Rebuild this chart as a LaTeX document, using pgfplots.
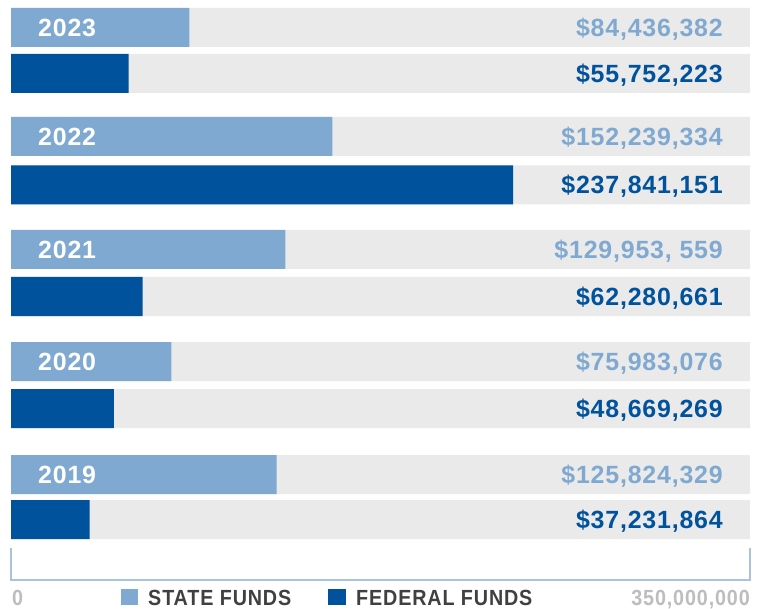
\documentclass[border=0pt]{standalone}
\usepackage{pgfplots}
\pgfplotsset{compat=1.18}
\usepackage{fontspec}
\setmainfont{Liberation Sans}
\newfontfamily\valfont[LetterSpace=3.3]{Liberation Sans}
\newfontfamily\condfont[FakeStretch=0.9,LetterSpace=4]{Liberation Sans}
\definecolor{stateblue}{HTML}{7FA9D1}
\definecolor{fedblue}{HTML}{00529C}
\definecolor{bggray}{HTML}{EAEAEA}
\definecolor{legtext}{HTML}{404040}
\definecolor{axgray}{HTML}{BDBDBD}
\definecolor{axline}{HTML}{A9C3DD}
\pgfplotstableread{
y val
27.5 84436382
136.5 152239334
249.5 129953559
361.5 75983076
474.5 125824329
}\statetab
\pgfplotstableread{
y val
73.5 55752223
185 237841151
296.5 62280661
408.5 48669269
519.5 37231864
}\fedtab
\pgfplotstableread{
y val
27.5 350000000
73.5 350000000
136.5 350000000
185 350000000
249.5 350000000
296.5 350000000
361.5 350000000
408.5 350000000
474.5 350000000
519.5 350000000
}\bgtab
\tikzset{
  yearlab/.style={anchor=base west, inner sep=0pt, text=white, font=\fontsize{25}{25}\selectfont\valfont\bfseries},
  statelab/.style={anchor=base east, inner sep=0pt, text=stateblue, font=\fontsize{25}{25}\selectfont\valfont\bfseries},
  fedlab/.style={anchor=base east, inner sep=0pt, text=fedblue, font=\fontsize{25}{25}\selectfont\valfont\bfseries},
  leglab/.style={inner sep=0pt, font=\fontsize{22}{22}\selectfont\condfont\bfseries},
}
\begin{document}
\begin{tikzpicture}
\begin{axis}[
  scale only axis, width=759bp, height=608bp,
  xmin=-5209743, xmax=354262517,
  ymin=0, ymax=608, y dir=reverse,
  hide axis, clip=false,
  xbar, bar shift=0pt, bar width=39bp,
]
\path (axis cs:-5209743,0) rectangle (axis cs:354262517,608);
\addplot[fill=bggray, draw=none] table[x=val,y=y] {\bgtab};
\addplot[fill=stateblue, draw=none] table[x=val,y=y] {\statetab};
\addplot[fill=fedblue, draw=none] table[x=val,y=y] {\fedtab};
% year labels
\node[yearlab] at (axis cs:12790000,36.5) {2023};
\node[yearlab] at (axis cs:12790000,145.5) {2022};
\node[yearlab] at (axis cs:12790000,258.5) {2021};
\node[yearlab] at (axis cs:12790000,370.5) {2020};
\node[yearlab] at (axis cs:12790000,483.5) {2019};
% state values
\node[statelab] at (axis cs:337200000,36.5) {\$84,436,382};
\node[statelab] at (axis cs:337200000,145.5) {\$152,239,334};
\node[statelab] at (axis cs:337200000,258.5) {\$129,953, 559};
\node[statelab] at (axis cs:337200000,370.5) {\$75,983,076};
\node[statelab] at (axis cs:337200000,483.5) {\$125,824,329};
% federal values
\node[fedlab] at (axis cs:337200000,82.5) {\$55,752,223};
\node[fedlab] at (axis cs:337200000,194) {\$237,841,151};
\node[fedlab] at (axis cs:337200000,305.5) {\$62,280,661};
\node[fedlab] at (axis cs:337200000,417.5) {\$48,669,269};
\node[fedlab] at (axis cs:337200000,528.5) {\$37,231,864};
% axis decoration
\draw[axline, line width=1.5bp] (axis cs:0,548) -- (axis cs:0,580) -- (axis cs:350000000,580) -- (axis cs:350000000,548);
\node[leglab, anchor=base west, text=axgray] at (axis cs:470000,605) {0};
\node[leglab, anchor=base east, text=axgray] at (axis cs:350000000,605) {350,000,000};
% legend
\fill[stateblue] (axis cs:52100000,589) rectangle (axis cs:60100000,605);
\node[leglab, anchor=base west, text=legtext] at (axis cs:64900000,605) {STATE FUNDS};
\fill[fedblue] (axis cs:150100000,589) rectangle (axis cs:158700000,605);
\node[leglab, anchor=base west, text=legtext] at (axis cs:163400000,605) {FEDERAL FUNDS};
\end{axis}
\end{tikzpicture}
\end{document}
